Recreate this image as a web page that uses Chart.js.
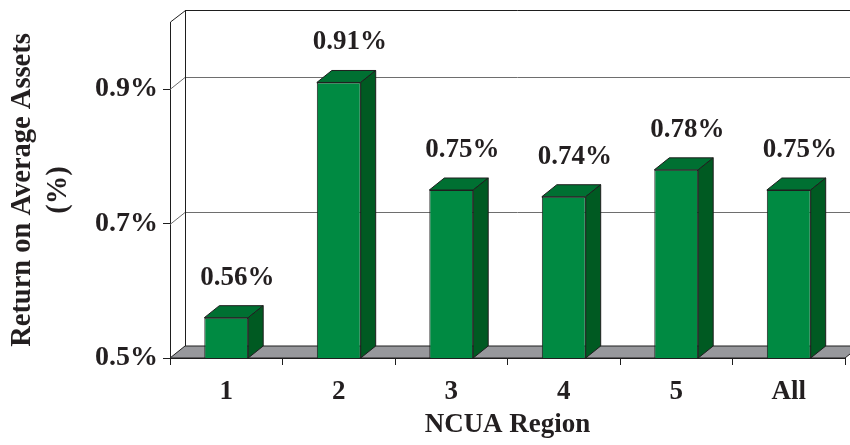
<!DOCTYPE html>
<html>
<head>
<meta charset="utf-8">
<title>Return on Average Assets by NCUA Region</title>
<script src="https://cdn.jsdelivr.net/npm/chart.js@4.4.0/dist/chart.umd.min.js"></script>
<style>
    html, body { margin: 0; padding: 0; background: #ffffff; }
    #wrap { position: relative; width: 850px; height: 445px; }
</style>
</head>
<body>
<div id="wrap"><canvas id="roaChart"></canvas></div>
<script>
// Chart data
const regions = ['1', '2', '3', '4', '5', 'All'];
const roaValues = [0.56, 0.91, 0.75, 0.74, 0.78, 0.75];
const yTicks = [0.5, 0.7, 0.9];

// Colours
const colors = {
    front: '#008a42',
    side: '#005a22',
    top: '#007032',
    floor: '#97989c',
    edge: '#1e1e1e',
    text: '#231f20',
    grid: '#6e6e6e'
};

const serif = "'Liberation Serif', 'Times New Roman', Times, serif";
const depth = { dx: 15, dy: -12 };

// Back wall, gridlines and floor behind the bars; 3D faces and labels on top
const wallPlugin = {
    id: 'wall',
    beforeDatasetsDraw(chart) {
        const { ctx, chartArea: a, scales: { y } } = chart;
        const dx = depth.dx, dy = depth.dy;
        ctx.save();
        ctx.lineWidth = 1;

        // floor
        ctx.beginPath();
        ctx.moveTo(a.left, a.bottom);
        ctx.lineTo(a.right, a.bottom);
        ctx.lineTo(a.right + dx, a.bottom + dy);
        ctx.lineTo(a.left + dx, a.bottom + dy);
        ctx.closePath();
        ctx.fillStyle = colors.floor;
        ctx.fill();
        ctx.strokeStyle = colors.edge;
        ctx.stroke();

        // gridlines on back wall
        ctx.strokeStyle = colors.grid;
        yTicks.forEach(v => {
            if (v === y.min) return;
            const py = Math.round(y.getPixelForValue(v)) + 0.5;
            ctx.beginPath();
            ctx.moveTo(a.left, py);
            ctx.lineTo(a.left + dx, py + dy);
            ctx.lineTo(chart.width, py + dy);
            ctx.stroke();
        });

        // back wall outline
        ctx.strokeStyle = colors.edge;
        ctx.beginPath();
        ctx.moveTo(a.left + 0.5, a.top);
        ctx.lineTo(a.left + dx + 0.5, a.top + dy + 0.5);
        ctx.lineTo(chart.width, a.top + dy + 0.5);
        ctx.moveTo(a.left + dx + 0.5, a.top + dy);
        ctx.lineTo(a.left + dx + 0.5, a.bottom + dy);
        ctx.stroke();
        ctx.restore();
    },
    afterDatasetsDraw(chart) {
        const { ctx, scales: { y } } = chart;
        const dx = depth.dx, dy = depth.dy;
        const meta = chart.getDatasetMeta(0);
        const b = y.getPixelForValue(y.min);
        ctx.save();
        ctx.lineWidth = 1;
        ctx.strokeStyle = colors.edge;
        meta.data.forEach((bar, i) => {
            const l = bar.x - bar.width / 2;
            const r = bar.x + bar.width / 2;
            const t = bar.y;

            // top face
            ctx.beginPath();
            ctx.moveTo(l, t);
            ctx.lineTo(l + dx, t + dy);
            ctx.lineTo(r + dx, t + dy);
            ctx.lineTo(r, t);
            ctx.closePath();
            ctx.fillStyle = colors.top;
            ctx.fill();
            ctx.stroke();

            // side face
            ctx.beginPath();
            ctx.moveTo(r, t);
            ctx.lineTo(r + dx, t + dy);
            ctx.lineTo(r + dx, b + dy);
            ctx.lineTo(r, b);
            ctx.closePath();
            ctx.fillStyle = colors.side;
            ctx.fill();
            ctx.stroke();

            // value label
            ctx.fillStyle = colors.text;
            ctx.font = 'bold 27px ' + serif;
            ctx.textAlign = 'center';
            ctx.textBaseline = 'middle';
            ctx.fillText(roaValues[i].toFixed(2) + '%', bar.x + 11, t - 40);
        });
        ctx.restore();
    }
};

new Chart(document.getElementById('roaChart'), {
    type: 'bar',
    data: {
        labels: regions,
        datasets: [{
            data: roaValues,
            backgroundColor: colors.front,
            borderColor: colors.edge,
            borderWidth: 1,
            borderSkipped: false,
            categoryPercentage: 1,
            barPercentage: 0.39
        }]
    },
    options: {
        responsive: true,
        maintainAspectRatio: false,
        animation: false,
        devicePixelRatio: 1,
        layout: { padding: { top: 22, right: 5, left: 0, bottom: 0 } },
        plugins: {
            legend: { display: false },
            tooltip: { enabled: false }
        },
        scales: {
            x: {
                afterFit(scale) { scale.height = 87; },
                grid: {
                    drawOnChartArea: false,
                    drawTicks: true,
                    tickLength: 7,
                    color: colors.edge
                },
                border: { display: true, color: colors.edge },
                ticks: {
                    color: colors.text,
                    padding: 11,
                    font: { family: serif, size: 27, weight: 'bold' }
                },
                title: {
                    display: true,
                    text: 'NCUA Region',
                    color: colors.text,
                    padding: { top: 0, bottom: 3 },
                    font: { family: serif, size: 27, weight: 'bold', lineHeight: 1.25 }
                }
            },
            y: {
                min: 0.5,
                max: 1.0,
                afterFit(scale) { scale.width = 170; },
                afterBuildTicks(scale) { scale.ticks = yTicks.map(v => ({ value: v })); },
                grid: {
                    drawOnChartArea: false,
                    drawTicks: true,
                    tickLength: 7,
                    color: colors.edge
                },
                border: { display: true, color: colors.edge },
                ticks: {
                    color: colors.text,
                    padding: 5,
                    font: { family: serif, size: 28, weight: 'bold' },
                    callback: v => v.toFixed(1) + '%'
                },
                title: {
                    display: true,
                    text: ['Return on Average Assets', '(%)'],
                    color: colors.text,
                    padding: { top: 5, bottom: 0 },
                    font: { family: serif, size: 28.5, weight: 'bold', lineHeight: 1.25 }
                }
            }
        }
    },
    plugins: [wallPlugin]
});
</script>
</body>
</html>
